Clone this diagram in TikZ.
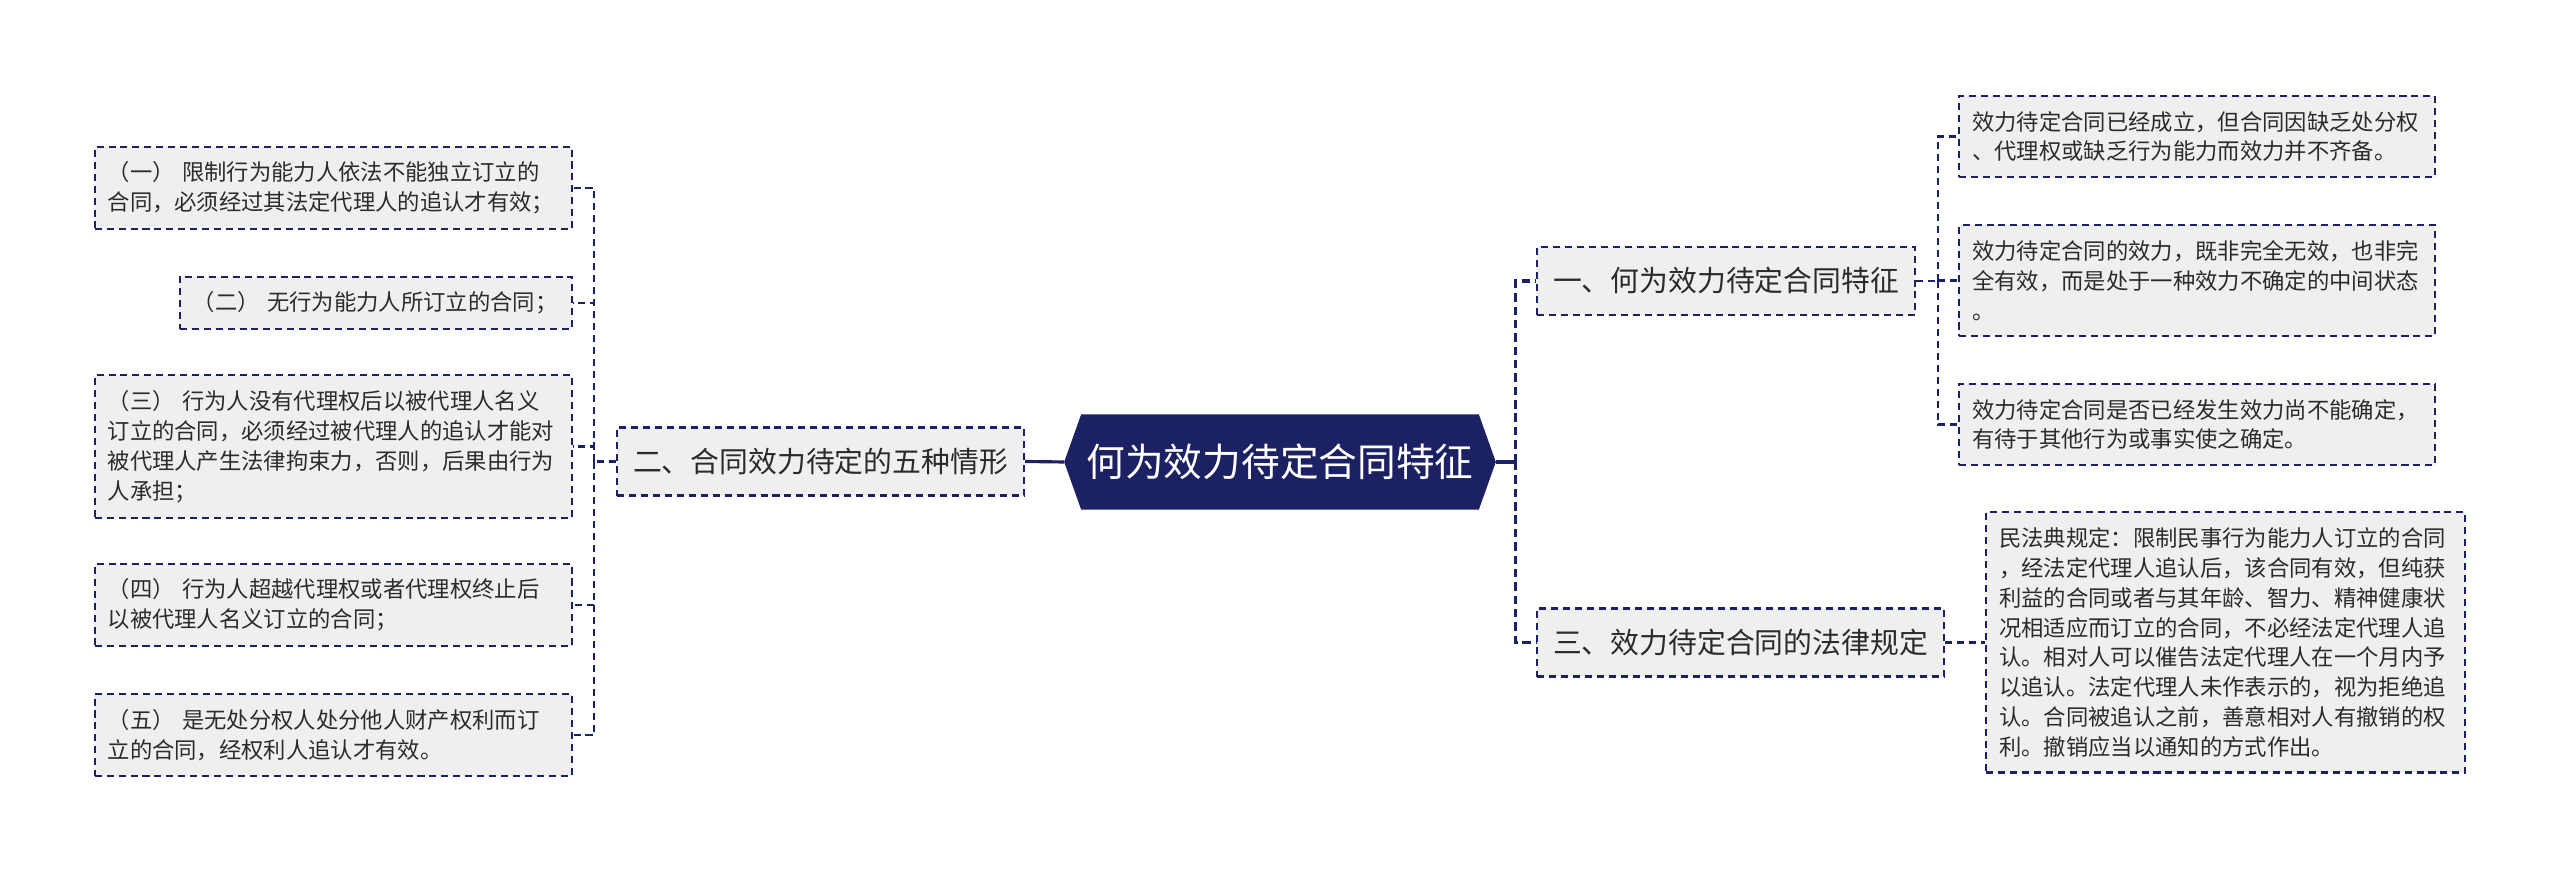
\documentclass[tikz,border=0pt]{standalone}
\usepackage{fontspec}
\setmainfont{Noto Sans CJK SC}
\usetikzlibrary{backgrounds}
\definecolor{navy}{HTML}{1B2162}
\definecolor{boxgray}{HTML}{EFEFEF}
\definecolor{ink}{HTML}{2B2B2B}
\begin{document}
\begin{tikzpicture}[
    x=0.01cm, y=-0.01cm,
    topic/.style={text=white, minimum width=3.96cm, minimum height=0.94cm, inner sep=0pt,
        font=\fontsize{11pt}{13pt}\selectfont},
    branch/.style={draw=navy, line width=0.6pt, dash pattern=on 2pt off 1.4pt, fill=boxgray, text=ink,
        minimum height=0.68cm, inner xsep=0.16cm, font=\fontsize{8.2pt}{10pt}\selectfont},
    leaf/.style={draw=navy, line width=0.6pt, dash pattern=on 2pt off 1.4pt, fill=boxgray, text=ink,
        text width=#1, align=left, inner xsep=0.13cm, inner ysep=0.15cm, font=\fontsize{6.35pt}{8.5pt}\selectfont},
    link/.style={draw=navy, line width=0.9pt},
    trunk/.style={draw=navy, line width=0.9pt, dash pattern=on 2.4pt off 1.4pt},
    twig/.style={draw=navy, line width=0.6pt, dash pattern=on 2pt off 1.4pt}
]
\useasboundingbox (0,0) rectangle (2560,874);

% Central topic (hexagon filled behind the text)
\node[topic] (root) at (1280,462) {何为效力待定合同特征};
\coordinate (tipL) at ([xshift=-0.17cm]root.west);
\coordinate (tipR) at ([xshift=0.17cm]root.east);
\begin{scope}[on background layer]
\fill[navy] (root.north west) -- (root.north east) -- (tipR) -- (root.south east)
    -- (root.south west) -- (tipL) -- cycle;
\end{scope}

% Main branches
\node[branch, anchor=east] (two) at (1025,461.5) {二、合同效力待定的五种情形};
\node[branch, anchor=west] (one) at (1536,281) {一、何为效力待定合同特征};
\node[branch, anchor=west] (three) at (1536,642.5) {三、效力待定合同的法律规定};

% Five situations (left)
\node[leaf=4.51cm, anchor=east] (l1) at (573,188) {（一） 限制行为能力人依法不能独立订立的\\合同，必须经过其法定代理人的追认才有效；};
\node[leaf=3.66cm, anchor=east] (l2) at (573,303) {（二） 无行为能力人所订立的合同；};
\node[leaf=4.51cm, anchor=east] (l3) at (573,446.5) {（三） 行为人没有代理权后以被代理人名义\\订立的合同，必须经过被代理人的追认才能对\\被代理人产生法律拘束力，否则，后果由行为\\人承担；};
\node[leaf=4.51cm, anchor=east] (l4) at (573,605) {（四） 行为人超越代理权或者代理权终止后\\以被代理人名义订立的合同；};
\node[leaf=4.51cm, anchor=east] (l5) at (573,735) {（五） 是无处分权人处分他人财产权利而订\\立的合同，经权利人追认才有效。};

% Features (right)
\node[leaf=4.5cm, anchor=west] (ra) at (1958,136.5) {效力待定合同已经成立，但合同因缺乏处分权\\、代理权或缺乏行为能力而效力并不齐备。};
\node[leaf=4.5cm, anchor=west] (rb) at (1958,280.5) {效力待定合同的效力，既非完全无效，也非完\\全有效，而是处于一种效力不确定的中间状态\\。};
\node[leaf=4.5cm, anchor=west] (rc) at (1958,424.5) {效力待定合同是否已经发生效力尚不能确定，\\有待于其他行为或事实使之确定。};

% Legal rule
\node[leaf=4.53cm, anchor=west] (rd) at (1985,642.5) {民法典规定：限制民事行为能力人订立的合同\\，经法定代理人追认后，该合同有效，但纯获\\利益的合同或者与其年龄、智力、精神健康状\\况相适应而订立的合同，不必经法定代理人追\\认。相对人可以催告法定代理人在一个月内予\\以追认。法定代理人未作表示的，视为拒绝追\\认。合同被追认之前，善意相对人有撤销的权\\利。撤销应当以通知的方式作出。};

% Connectors from the centre
\draw[link] (tipL) -- (two.east);
\draw[link] (tipR) -- ++(20,0) coordinate (rj);
\draw[trunk] (rj) |- (one.west);
\draw[trunk] (rj) |- (three.west);

% Second level
\draw[twig] (two.west) -- ++(-22,0) coordinate (lj);
\foreach \n in {l1,l2,l3,l4,l5}
    \draw[twig] (lj) |- (\n.east);
\draw[twig] (one.east) -- ++(22,0) coordinate (oj);
\foreach \n in {ra,rb,rc}
    \draw[twig] (oj) |- (\n.west);
\draw[twig] (three.east) -- (rd.west);
\end{tikzpicture}
\end{document}
